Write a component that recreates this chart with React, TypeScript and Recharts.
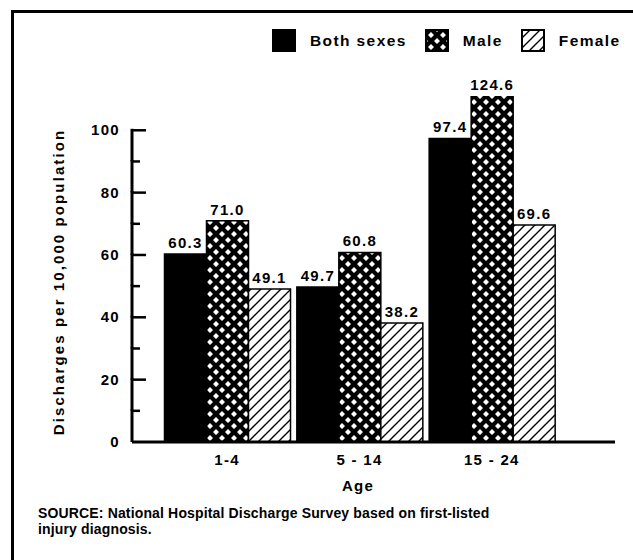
import { BarChart, Bar, XAxis, YAxis, Legend, LabelList } from "recharts";

const ages = ["1-4", "5 - 14", "15 - 24"];
const bothSexes = [60.3, 49.7, 97.4];
const male = [71.0, 60.8, 124.6];
const female = [49.1, 38.2, 69.6];
const seriesNames = ["Both sexes", "Male", "Female"];
const yTicks = [0, 10, 20, 30, 40, 50, 60, 70, 80, 90, 100];
const yLabeled = [0, 20, 40, 60, 80, 100];

const data = ages.map((age, i) => ({ age, both: bothSexes[i], male: male[i], female: female[i] }));

const FONT = "'Liberation Sans', Arial, Helvetica, sans-serif";
const PLOT_TOP = 96;
const PLOT_BOTTOM = 442;
const Y_MAX = 111;
const TICK_MARGIN = 12;
const fills = ["#000", "url(#crosshatch)", "url(#hatch)"];

const textStyle = { fontFamily: FONT, fontWeight: 700, fontSize: 15, letterSpacing: 1.3, fill: "#000" };

// bar labels; the 124.6 bar runs past the top of the frame so keep its label on the edge
const ValueLabel = (props: any) => {
  const { x, y, width, value } = props;
  const top = Math.max(y, PLOT_TOP);
  return (
    <text x={x + width / 2} y={top - 6} textAnchor="middle" {...textStyle}>
      {Number(value).toFixed(1)}
    </text>
  );
};

// ticks point inward, minor ones shorter and unlabeled; each tick also draws
// the axis piece below it so the axis line stops at 100
const YTick = (props: any) => {
  const { x, y, payload } = props;
  const v = payload.value;
  const axisX = x + TICK_MARGIN;
  const major = v % 20 === 0;
  const step = (10 * (PLOT_BOTTOM - PLOT_TOP)) / Y_MAX;
  return (
    <g>
      {v > 0 && <line x1={axisX} x2={axisX} y1={y - 1.5} y2={y + step} stroke="#000" strokeWidth={3} />}
      {v > 0 && <line x1={axisX} x2={axisX + (major ? 14 : 8)} y1={y} y2={y} stroke="#000" strokeWidth={2.5} />}
      {yLabeled.includes(v) && (
        <text x={x} y={y} dy={5} textAnchor="end" {...textStyle}>
          {v}
        </text>
      )}
    </g>
  );
};

const LegendContent = () => (
  <div style={{ display: "flex", alignItems: "center", fontFamily: FONT, fontWeight: 700, fontSize: 15.5, letterSpacing: 1.4 }}>
    {seriesNames.map((name, i) => (
      <div key={name} style={{ display: "flex", alignItems: "center", marginRight: 18 }}>
        <svg width={24} height={23} style={{ marginRight: 14 }}>
          <rect x={1} y={1} width={22} height={21} fill={fills[i]} stroke="#000" strokeWidth={2} />
        </svg>
        <span>{name}</span>
      </div>
    ))}
  </div>
);

export default function App() {
  return (
    <div style={{ position: "absolute", left: 0, top: 0, width: 633, height: 560, background: "#fff", overflow: "hidden" }}>
      <div style={{ position: "absolute", left: 11, top: 10, width: 700, height: 700, borderTop: "3px solid #000", borderLeft: "3px solid #000" }} />
      <BarChart
        width={633}
        height={560}
        data={data}
        margin={{ top: PLOT_TOP, right: 18, left: 72, bottom: 560 - PLOT_BOTTOM - 30 }}
        barGap={0}
        barCategoryGap={3.5}
        style={{ position: "absolute", left: 0, top: 0 }}
      >
        <defs>
          <pattern id="crosshatch" width="12" height="12" patternUnits="userSpaceOnUse">
            <rect width="12" height="12" fill="#000" />
            <path d="M6,3 L9,6 L6,9 L3,6 Z M0,-3 L3,0 L0,3 L-3,0 Z M12,-3 L15,0 L12,3 L9,0 Z M0,9 L3,12 L0,15 L-3,12 Z M12,9 L15,12 L12,15 L9,12 Z" fill="#fff" />
          </pattern>
          <pattern id="hatch" width="10" height="10" patternUnits="userSpaceOnUse">
            <rect width="10" height="10" fill="#fff" />
            <path d="M0,10 L10,0 M-2,2 L2,-2 M8,12 L12,8" stroke="#000" strokeWidth={1.4} />
          </pattern>
        </defs>
        <XAxis
          dataKey="age"
          axisLine={{ stroke: "#000", strokeWidth: 3 }}
          tickLine={false}
          tickSize={0}
          tickMargin={12}
          height={30}
          padding={{ left: 29, right: 57 }}
          tick={textStyle}
          label={{
            content: () => (
              <text x={358} y={491} textAnchor="middle" {...textStyle}>
                Age
              </text>
            ),
          }}
        />
        <YAxis
          domain={[0, Y_MAX]}
          allowDataOverflow
          ticks={yTicks}
          interval={0}
          width={60}
          axisLine={false}
          tickLine={false}
          tickSize={0}
          tickMargin={TICK_MARGIN}
          tick={<YTick />}
          label={{
            content: () => (
              <text x={58} y={282} textAnchor="middle" dominantBaseline="central" transform="rotate(-90 58 282)" {...textStyle} letterSpacing={2.1}>
                Discharges per 10,000 population
              </text>
            ),
          }}
        />
        <Legend layout="horizontal" verticalAlign="middle" content={<LegendContent />} wrapperStyle={{ top: 29, left: 272, width: 380 }} />
        <Bar dataKey="both" name={seriesNames[0]} fill={fills[0]} stroke="#000" strokeWidth={1.5} isAnimationActive={false}>
          <LabelList dataKey="both" content={<ValueLabel />} />
        </Bar>
        <Bar dataKey="male" name={seriesNames[1]} fill={fills[1]} stroke="#000" strokeWidth={1.5} isAnimationActive={false}>
          <LabelList dataKey="male" content={<ValueLabel />} />
        </Bar>
        <Bar dataKey="female" name={seriesNames[2]} fill={fills[2]} stroke="#000" strokeWidth={1.5} isAnimationActive={false}>
          <LabelList dataKey="female" content={<ValueLabel />} />
        </Bar>
      </BarChart>
      <div style={{ position: "absolute", left: 38, top: 505, fontFamily: FONT, fontWeight: 700, fontSize: 14, lineHeight: "16px", letterSpacing: 0.15 }}>
        SOURCE: National Hospital Discharge Survey based on first-listed
        <br />
        injury diagnosis.
      </div>
    </div>
  );
}
